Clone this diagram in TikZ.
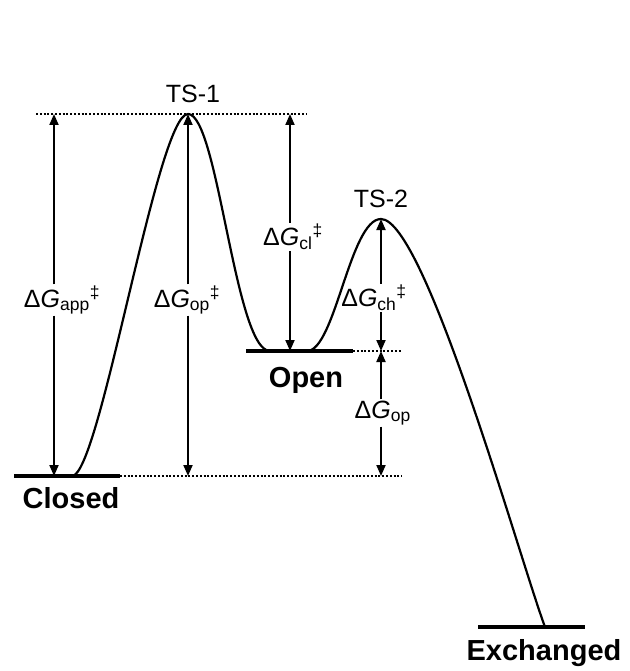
\documentclass[tikz,border=0pt]{standalone}
\usepackage{fontspec}
\setmainfont{Liberation Sans}
\usetikzlibrary{arrows.meta, calc}

\newcommand{\barrier}[2]{Δ\textit{G}\textsubscript{#1}\textsuperscript{#2}}

\begin{document}
\begin{tikzpicture}[
  x=1pt, y=-1pt,
  level/.style={line width=4pt},
  curve/.style={line width=2.2pt},
  guide/.style={line width=2pt, dash pattern=on 2pt off 1.8pt},
  arr/.style={line width=1.9pt, -{Triangle[length=11pt,width=9pt]}},
  lab/.style={font=\fontsize{25}{30}\selectfont, inner sep=1pt},
  state/.style={font=\fontsize{29}{34}\selectfont\bfseries, anchor=base, inner sep=0pt},
  tslab/.style={font=\fontsize{25}{30}\selectfont, anchor=base, inner sep=0pt}
]
\useasboundingbox (0,0) rectangle (629,671);

% --- Energy levels ---
\coordinate (ts1) at (188,114);
\coordinate (ts2) at (381,219);
\coordinate (closed) at (72,476);
\coordinate (openL) at (270,351);
\coordinate (openR) at (307,351);
\coordinate (exch) at (545,627);

\draw[level] (14,476) -- (120,476);
\draw[level] (246,351) -- (353,351);
\draw[level] (478,627) -- (585,627);

% --- Dotted guides ---
\draw[guide] (36,114) -- (306,114);
\draw[guide] (120,476) -- (402,476);
\draw[guide] (353,351) -- (402,351);

% --- Reaction profile ---
\draw[curve] (closed) .. controls (100,476) and (157,114) .. (ts1)
  .. controls (218,114) and (235,351) .. (openL) -- (openR)
  .. controls (335,351) and (350,219) .. (ts2)
  .. controls (425,219) and (520,560) .. (exch);

% --- State labels ---
\node[tslab] (ts1lab) at (193,103) {TS-1};
\node[tslab] (ts2lab) at (381,207) {TS-2};
\node[state] (closedlab) at (71,508) {Closed};
\node[state] (openlab) at (306,387) {Open};
\node[state] (exchlab) at (544,660) {Exchanged};

% === Barrier arrows ===
\coordinate (appT) at (54,114);
\coordinate (appB) at (54,476);
\node[lab] (app) at (62,300) {\barrier{app}{‡}};
\draw[arr] (app.north -| appT) -- (appT);
\draw[arr] (app.south -| appB) -- (appB);

\coordinate (opTT) at (188,114);
\coordinate (opTB) at (188,476);
\node[lab] (opts) at (187,300) {\barrier{op}{‡}};
\draw[arr] (opts.north -| opTT) -- (opTT);
\draw[arr] (opts.south -| opTB) -- (opTB);

\coordinate (clT) at (290,114);
\coordinate (clB) at (290,351);
\node[lab] (cl) at (293,237) {\barrier{cl}{‡}};
\draw[arr] (cl.north -| clT) -- (clT);
\draw[arr] (cl.south -| clB) -- (clB);

\coordinate (chT) at (381,219);
\coordinate (chB) at (381,351);
\node[lab] (ch) at (374,298) {\barrier{ch}{‡}};
\draw[arr] (ch.north -| chT) -- (chT);
\draw[arr] (ch.south -| chB) -- (chB);

\coordinate (opT) at (381,351);
\coordinate (opB) at (381,476);
\node[lab] (op) at (383,413) {\barrier{op}{}};
\draw[arr] (op.north -| opT) -- (opT);
\draw[arr] (op.south -| opB) -- (opB);

\end{tikzpicture}
\end{document}
